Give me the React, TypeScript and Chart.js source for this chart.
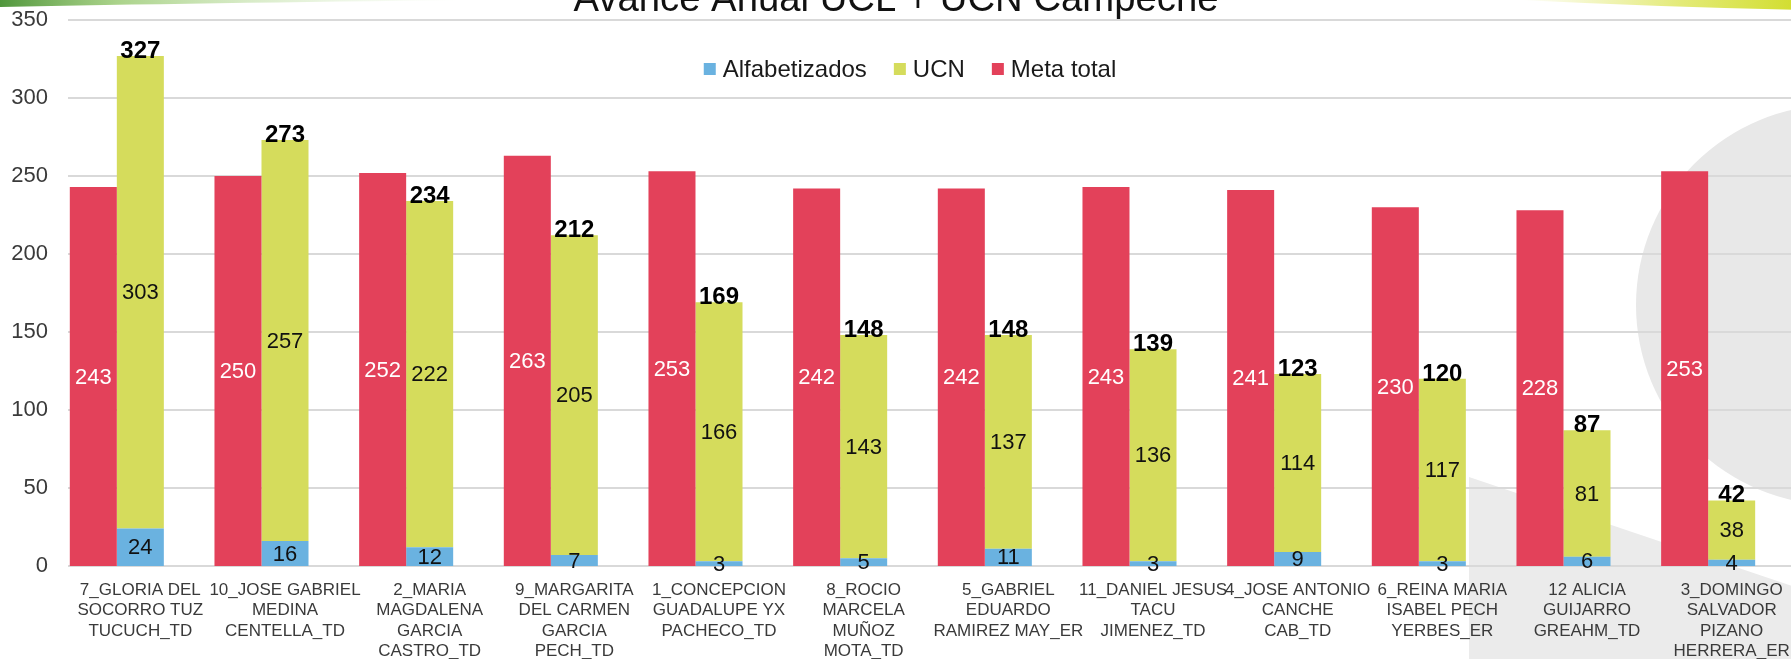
import React, { useEffect, useRef } from 'react';
import { Chart, registerables } from 'chart.js';

Chart.register(...registerables);

// ---------- data ----------
const categories: string[][] = [
  ['7_GLORIA DEL', 'SOCORRO TUZ', 'TUCUCH_TD'],
  ['10_JOSE GABRIEL', 'MEDINA', 'CENTELLA_TD'],
  ['2_MARIA', 'MAGDALENA', 'GARCIA', 'CASTRO_TD'],
  ['9_MARGARITA', 'DEL CARMEN', 'GARCIA', 'PECH_TD'],
  ['1_CONCEPCION', 'GUADALUPE YX', 'PACHECO_TD'],
  ['8_ROCIO', 'MARCELA', 'MUÑOZ', 'MOTA_TD'],
  ['5_GABRIEL', 'EDUARDO', 'RAMIREZ MAY_ER'],
  ['11_DANIEL JESUS', 'TACU', 'JIMENEZ_TD'],
  ['4_JOSE ANTONIO', 'CANCHE', 'CAB_TD'],
  ['6_REINA MARIA', 'ISABEL PECH', 'YERBES_ER'],
  ['12 ALICIA', 'GUIJARRO', 'GREAHM_TD'],
  ['3_DOMINGO', 'SALVADOR', 'PIZANO', 'HERRERA_ER'],
];
const metaTotal = [243, 250, 252, 263, 253, 242, 242, 243, 241, 230, 228, 253];
const alfabetizados = [24, 16, 12, 7, 3, 5, 11, 3, 9, 3, 6, 4];
const ucn = [303, 257, 222, 205, 166, 143, 137, 136, 114, 117, 81, 38];
const emptySlot = [0, 0, 0, 0, 0, 0, 0, 0, 0, 0, 0, 0];
const yMin = 0;
const yMax = 350;
const yStep = 50;
const titleText = 'Avance Anual UCL + UCN Campeche';
const seriesNames = ['Alfabetizados', 'UCN', 'Meta total'];

// ---------- styles ----------
const RED = '#E3415A';
const YELLOW = '#D5DC5C';
const BLUE = '#6AB2E0';
const FONT = '"Liberation Sans", Arial, sans-serif';
const TEXT = '#3a3a3a';
const GRID = '#d9d9d9';
const W = 1804;
const H = 676;

const backgroundPlugin = {
  id: 'bgDeco',
  beforeDraw(chart: any) {
    const ctx = chart.ctx as CanvasRenderingContext2D;
    ctx.save();
    ctx.fillStyle = '#ffffff';
    ctx.fillRect(0, 0, chart.width, chart.height);
    // grey circle on right
    ctx.fillStyle = '#e8e8e8';
    ctx.beginPath();
    ctx.arc(1836, 305, 200, 0, Math.PI * 2);
    ctx.fill();
    // grey diagonal band bottom right
    ctx.fillStyle = '#ebebeb';
    ctx.beginPath();
    ctx.moveTo(1469, 477);
    ctx.lineTo(1804, 590);
    ctx.lineTo(1804, H);
    ctx.lineTo(1469, H);
    ctx.closePath();
    ctx.fill();
    // green streak top-left
    const g1 = ctx.createLinearGradient(0, 0, 470, 0);
    g1.addColorStop(0, 'rgba(80,150,60,1)');
    g1.addColorStop(0.25, 'rgba(150,200,110,0.8)');
    g1.addColorStop(1, 'rgba(220,240,200,0)');
    ctx.fillStyle = g1;
    ctx.beginPath();
    ctx.moveTo(0, 0);
    ctx.lineTo(470, 0);
    ctx.quadraticCurveTo(200, 3, 0, 7);
    ctx.closePath();
    ctx.fill();
    // yellow-green streak top-right
    const g2 = ctx.createLinearGradient(1520, 0, 1791, 0);
    g2.addColorStop(0, 'rgba(215,225,60,0)');
    g2.addColorStop(0.6, 'rgba(215,225,60,0.7)');
    g2.addColorStop(1, 'rgba(210,222,50,1)');
    ctx.fillStyle = g2;
    ctx.beginPath();
    ctx.moveTo(1520, 0);
    ctx.lineTo(1804, 0);
    ctx.lineTo(1804, 10);
    ctx.quadraticCurveTo(1660, 7, 1520, 0);
    ctx.closePath();
    ctx.fill();
    ctx.restore();
  },
};

const gridPlugin = {
  id: 'customGrid',
  beforeDatasetsDraw(chart: any) {
    const ctx = chart.ctx as CanvasRenderingContext2D;
    const y = chart.scales.y;
    ctx.save();
    ctx.strokeStyle = GRID;
    ctx.lineWidth = 2;
    for (const t of y.ticks) {
      const py = Math.round(y.getPixelForValue(t.value));
      ctx.beginPath();
      ctx.moveTo(chart.chartArea.left, py);
      ctx.lineTo(chart.width, py);
      ctx.stroke();
    }
    ctx.restore();
  },
};

const labelPlugin = {
  id: 'valueLabels',
  afterDatasetsDraw(chart: any) {
    const ctx = chart.ctx as CanvasRenderingContext2D;
    ctx.save();
    ctx.textAlign = 'center';
    const drawSeries = (dsIndex: number, color: string) => {
      const meta = chart.getDatasetMeta(dsIndex);
      const data = chart.data.datasets[dsIndex].data as number[];
      meta.data.forEach((bar: any, i: number) => {
        const p = bar.getProps(['x', 'y', 'base'], true);
        ctx.fillStyle = color;
        ctx.font = `22px ${FONT}`;
        ctx.textBaseline = 'middle';
        ctx.fillText(String(data[i]), p.x, (p.y + p.base) / 2 + 1);
      });
    };
    drawSeries(2, '#ffffff');
    drawSeries(1, '#111111');
    drawSeries(0, '#111111');
    // totals above the stacked bar
    const topMeta = chart.getDatasetMeta(1);
    topMeta.data.forEach((bar: any, i: number) => {
      const p = bar.getProps(['x', 'y'], true);
      ctx.fillStyle = '#000000';
      ctx.font = `bold 24px ${FONT}`;
      ctx.textBaseline = 'alphabetic';
      ctx.fillText(String(alfabetizados[i] + ucn[i]), p.x, p.y + 2);
    });
    ctx.restore();
  },
};

const legendTitlePlugin = {
  id: 'legendTitle',
  afterDraw(chart: any) {
    const ctx = chart.ctx as CanvasRenderingContext2D;
    ctx.save();
    // legend
    const colors = [BLUE, YELLOW, RED];
    const box = 12;
    const gapBox = 7;
    const gapItem = 27;
    ctx.font = `24px ${FONT}`;
    const widths = seriesNames.map((n) => ctx.measureText(n).width);
    const total = widths.reduce((a, w) => a + box + gapBox + w, 0) + gapItem * (seriesNames.length - 1);
    let x = 910 - total / 2;
    const cy = 69;
    seriesNames.forEach((n, i) => {
      ctx.fillStyle = colors[i];
      ctx.fillRect(x, cy - box / 2, box, box);
      x += box + gapBox;
      ctx.fillStyle = '#1a1a1a';
      ctx.textAlign = 'left';
      ctx.textBaseline = 'middle';
      ctx.fillText(n, x, cy + 1);
      x += widths[i] + gapItem;
    });
    // title (cut off by top edge)
    ctx.font = `38px ${FONT}`;
    const tw = ctx.measureText(titleText).width;
    const target = 645;
    ctx.translate(896, 11);
    ctx.scale(target / tw, 1);
    ctx.fillStyle = '#111111';
    ctx.textAlign = 'center';
    ctx.textBaseline = 'alphabetic';
    ctx.fillText(titleText, 0, 0);
    ctx.restore();
  },
};

export default function App() {
  const ref = useRef<HTMLCanvasElement>(null);
  useEffect(() => {
    document.body.style.margin = '0';
    document.body.style.overflow = 'hidden';
    document.documentElement.style.overflow = 'hidden';
    if (!ref.current) return;
    const chart = new Chart(ref.current, {
      type: 'bar',
      data: {
        labels: categories,
        datasets: [
          { label: seriesNames[0], data: alfabetizados, backgroundColor: BLUE, stack: 'avance', order: 1 },
          { label: seriesNames[1], data: ucn, backgroundColor: YELLOW, stack: 'avance', order: 1 },
          { label: seriesNames[2], data: metaTotal, backgroundColor: RED, stack: 'meta', order: 0 },
          { label: '', data: emptySlot, backgroundColor: 'rgba(0,0,0,0)', stack: 'slot', order: 2 },
        ],
      },
      options: {
        responsive: false,
        animation: false,
        layout: { padding: { top: 20, left: 0, right: 0, bottom: 0 } },
        datasets: { bar: { categoryPercentage: 0.975, barPercentage: 1, borderWidth: 0 } } as any,
        plugins: {
          legend: { display: false },
          title: { display: false },
          tooltip: { enabled: false },
        },
        scales: {
          x: {
            stacked: true,
            offset: true,
            grid: { display: false, drawTicks: false },
            border: { display: false },
            ticks: {
              color: TEXT,
              font: { family: FONT, size: 17, lineHeight: 20.5 / 17 },
              padding: 14,
              maxRotation: 0,
              minRotation: 0,
              autoSkip: false,
            },
          },
          y: {
            stacked: true,
            min: yMin,
            max: yMax,
            grid: { display: false, drawTicks: false },
            border: { display: false },
            ticks: {
              stepSize: yStep,
              color: TEXT,
              font: { family: FONT, size: 22 },
              padding: 20,
            },
            afterFit: (s: any) => {
              s.width = 68;
              s.paddingTop = 0;
              s.paddingBottom = 0;
            },
          },
        },
      },
      plugins: [backgroundPlugin, gridPlugin, labelPlugin, legendTitlePlugin],
    });
    return () => chart.destroy();
  }, []);
  return (
    <div style={{ position: 'fixed', left: 0, top: 0, width: 1791, height: 659, overflow: 'hidden', background: '#fff' }}>
      <canvas ref={ref} width={W} height={H} style={{ display: 'block', width: W, height: H }} />
    </div>
  );
}
